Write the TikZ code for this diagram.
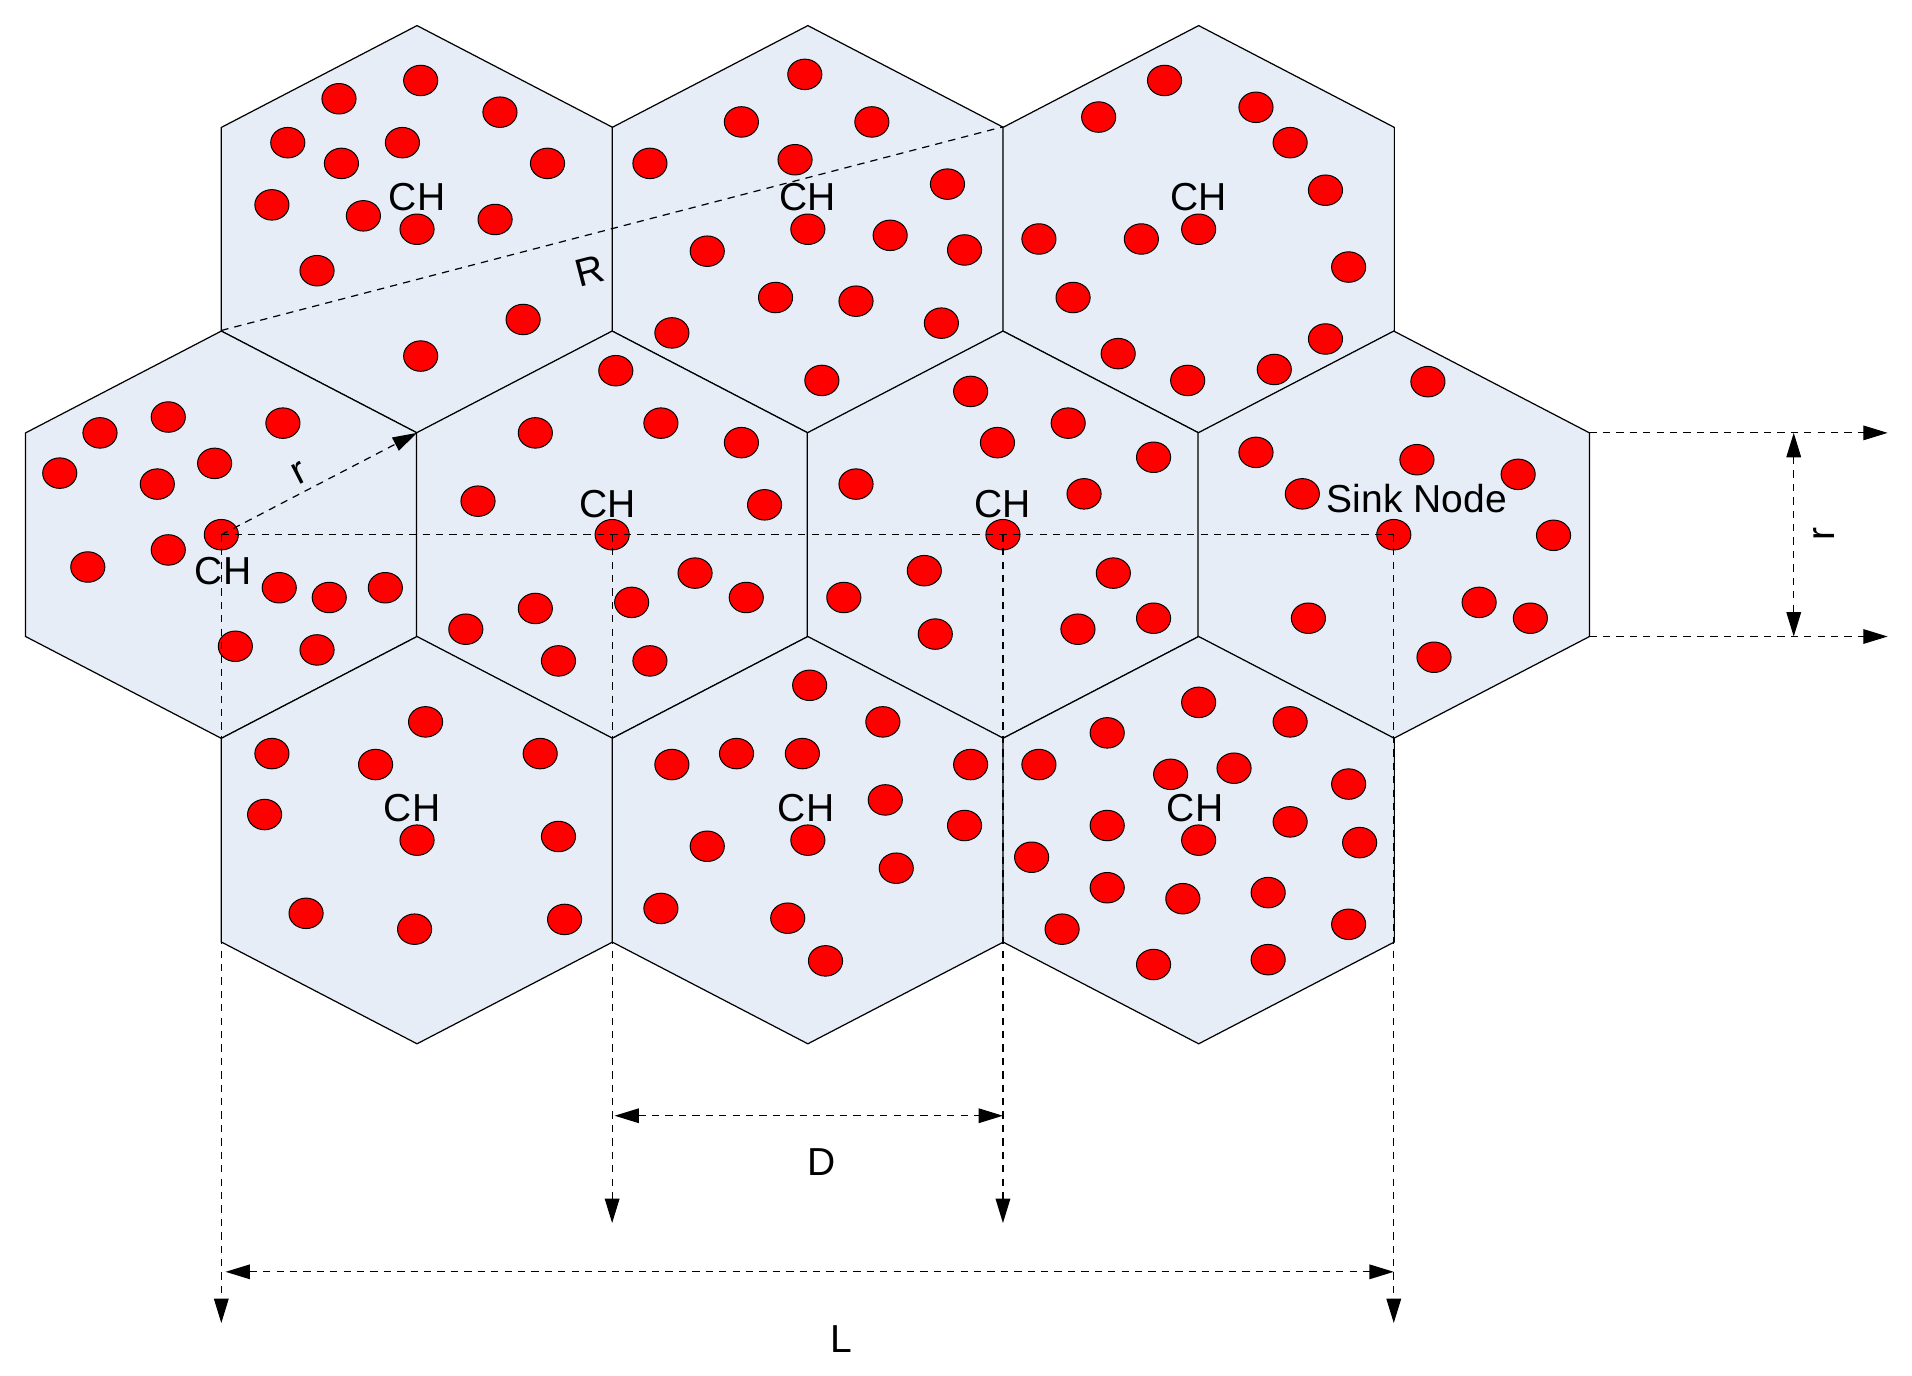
\documentclass[tikz,border=0pt]{standalone}
\usepackage{fontspec}
\setmainfont{Liberation Sans}
\usetikzlibrary{shapes.geometric,arrows.meta}
\definecolor{cellfill}{RGB}{230,237,247}
\begin{document}
\begin{tikzpicture}[x=0.5pt,y=-0.5pt,
  hexcell/.style={draw=black,line width=0.5pt,fill=cellfill},
  sensor/.style={ellipse,draw=black,line width=0.4pt,fill=red,minimum width=14pt,minimum height=12.5pt,inner sep=0pt},
  dimline/.style={draw=black,line width=0.5pt,dash pattern=on 3pt off 2.5pt},
  tip/.style={-{Triangle[length=10pt,width=6pt]}},
  tips/.style={{Triangle[length=10pt,width=6pt]}-{Triangle[length=10pt,width=6pt]}},
  lbl/.style={font=\fontsize{16}{19}\selectfont,inner sep=0pt}]
\useasboundingbox (0,0) rectangle (1568,1128);
% hexagonal cells
\foreach \cx/\cy in {342/188, 662.5/188, 983/188, 181.5/438.5, 502/438.5, 822.5/438.5, 1143/438.5, 342/689, 662.5/689, 983/689}
  \draw[hexcell] (\cx,\cy-167) -- (\cx+160.5,\cy-83.5) -- (\cx+160.5,\cy+83.5) -- (\cx,\cy+167) -- (\cx-160.5,\cy+83.5) -- (\cx-160.5,\cy-83.5) -- cycle;
% ordinary sensor nodes
\foreach \x/\y [count=\i] in {
 278/81,345/66,410/92,236/117,280/134,330/117,449/134,223/168,298/177,406/180,260/222,429/262,345/292,
 660/61,608/100,715/100,533/134,652/131,777/151,580/206,730/193,791/205,636/244,702/247,772/265,551/273,674/312,
 955/66,901/96,1030/88,1058/117,1087/156,852/196,936/196,1106/219,880/244,1087/278,917/290,974/312,1045/303,
 82/355,138/342,232/347,49/388,129/397,176/380,72/465,138/451,229/482,270/490,316/482,193/530,260/533,
 505/304,439/355,542/347,608/363,392/411,627/414,570/470,612/490,518/494,439/499,382/516,458/542,533/542,
 796/321,818/363,876/347,946/375,702/397,889/405,758/468,913/470,692/490,767/520,884/516,946/507,
 1171/313,1030/371,1162/377,1245/389,1068/405,1274/439,1213/494,1255/507,1073/507,1176/539,
 349/592,223/618,308/627,443/618,217/668,458/686,251/749,340/762,463/754,
 664/562,724/592,551/627,604/618,658/618,796/627,726/656,791/677,580/694,735/712,542/745,646/753,677/788,
 983/576,1058/592,908/601,852/627,960/635,1012/630,1106/643,908/677,1058/674,1115/691,846/703,908/728,970/737,1040/732,871/762,946/791,1040/787,1106/758}
  \node[sensor] (s\i) at (\x,\y) {};
% cluster heads and sink
\node[sensor] (ch1) at (342,188) {};
\node[sensor] (ch2) at (662.5,188) {};
\node[sensor] (ch3) at (983,188) {};
\node[sensor] (ch4) at (181.5,438.5) {};
\node[sensor] (ch5) at (502,438.5) {};
\node[sensor] (ch6) at (822.5,438.5) {};
\node[sensor] (sink) at (1143,438.5) {};
\node[sensor] (ch7) at (342,689) {};
\node[sensor] (ch8) at (662.5,689) {};
\node[sensor] (ch9) at (983,689) {};
% labels
\node[lbl] (l1) at (342,162) {CH};
\node[lbl] (l2) at (662,162) {CH};
\node[lbl] (l3) at (983,162) {CH};
\node[lbl] (l4) at (183,468) {CH};
\node[lbl] (l5) at (498,413) {CH};
\node[lbl] (l6) at (822,413) {CH};
\node[lbl] (l7) at (338,663) {CH};
\node[lbl] (l8) at (661,663) {CH};
\node[lbl] (l9) at (980,663) {CH};
\node[lbl] (lsink) at (1162,409) {Sink Node};
% dimension lines
\coordinate (vR1) at (181.5,271);
\coordinate (vR2) at (822.5,104);
\draw[dimline] (vR1) -- (vR2);
\node[lbl,rotate=14.6] (lR) at (484,222) {R};
\coordinate (vr) at (342,355);
\draw[dimline,tip] (ch4.center) -- (vr);
\node[lbl,rotate=27] (lr) at (246,388) {r};
\draw[dimline] (ch4.center) -- (sink.center);
\coordinate (e1) at (181.5,1085);
\coordinate (e2) at (502,1003);
\coordinate (e3) at (822.5,1003);
\coordinate (e4) at (1143,1085);
\draw[dimline,tip] (ch4.center) -- (e1);
\draw[dimline,tip] (ch5.center) -- (e2);
\draw[dimline,tip] (ch6.center) -- (e3);
\draw[dimline,tip] (sink.center) -- (e4);
\coordinate (d1) at (504,915);
\coordinate (d2) at (822.5,915);
\draw[dimline,tips] (d1) -- (d2);
\node[lbl] (lD) at (674,953) {D};
\coordinate (m1) at (185,1043);
\coordinate (m2) at (1143,1043);
\draw[dimline,tips] (m1) -- (m2);
\node[lbl] (lL) at (690,1098) {L};
\coordinate (q1) at (1303.5,355);
\coordinate (q2) at (1548,355);
\coordinate (q3) at (1303.5,522);
\coordinate (q4) at (1548,522);
\draw[dimline,tip] (q1) -- (q2);
\draw[dimline,tip] (q3) -- (q4);
\coordinate (k1) at (1471,355);
\coordinate (k2) at (1471,522);
\draw[dimline,tips] (k1) -- (k2);
\node[lbl,rotate=90] (lr2) at (1496,438) {r};
\end{tikzpicture}
\end{document}
